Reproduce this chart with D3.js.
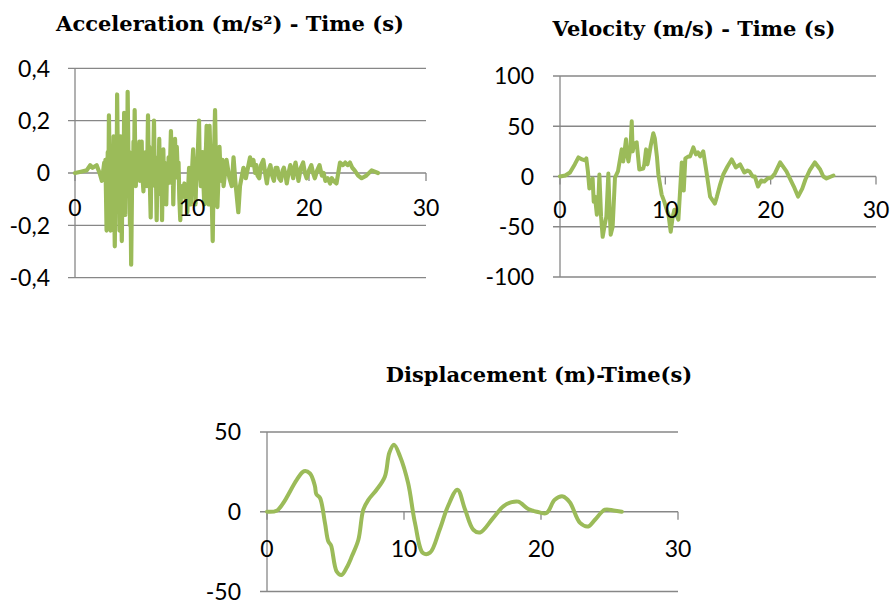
<!DOCTYPE html>
<html><head><meta charset="utf-8">
<script src="https://cdn.jsdelivr.net/npm/d3@7"></script>
<style>
html,body{margin:0;padding:0;background:#fff;}
svg{display:block;}
</style>
</head><body>
<svg id="chart" width="894" height="600"></svg>
<script>
// ---------- DATA ----------
const accTime = [0,0.5,1.0,1.3,1.5,1.85,2.1,2.3,
  2.5,2.55,2.6,2.65,2.7,2.75,2.8,2.85,2.9,2.95,3.0,3.05,3.1,3.15,3.2,3.25,3.3,3.35,3.4,3.45,3.5,3.55,3.6,3.65,3.7,3.75,3.8,3.85,3.9,3.95,4.0,4.05,4.1,4.15,4.2,4.25,4.3,4.35,4.4,4.45,4.5,4.55,4.6,4.65,4.7,4.75,4.8,4.85,4.9,4.95,5.0,5.05,5.1,5.15,5.2,5.25,5.3,5.35,5.4,5.5,5.55,5.6,5.7,5.75,5.85,5.9,6.0,6.05,6.15,6.24,6.3,6.35,6.42,6.47,6.52,6.6,6.65,6.75,6.8,6.85,6.9,6.98,7.03,7.1,7.15,7.2,7.25,7.3,7.38,7.44,7.5,7.55,7.6,7.65,7.72,7.8,7.87,7.95,8.0,8.1,8.2,8.25,8.3,8.35,8.4,8.45,8.55,8.6,8.7,8.8,8.85,8.92,9.0,9.05,9.15,9.25,9.35,9.45,9.55,9.6,9.68,9.75,9.82,9.9,9.97,10.05,10.1,10.15,10.22,10.3,10.35,10.4,10.5,10.6,10.65,10.75,10.82,10.9,10.97,11.05,11.12,11.2,11.25,11.32,11.4,11.45,11.5,11.55,11.62,11.7,11.77,11.85,11.97,12.02,12.1,12.17,12.25,12.35,12.42,12.5,12.6,
  12.7,12.95,13.2,13.4,13.55,13.7,13.96,14.1,14.4,14.6,
  14.96,15.1,15.25,15.4,15.5,15.6,15.75,15.9,16.1,16.25,16.4,16.55,16.7,16.85,17.0,17.15,17.3,17.45,17.6,17.75,17.85,18.0,18.1,18.25,18.4,18.55,18.65,18.75,18.85,19.0,19.1,19.3,19.5,19.65,19.8,20.0,20.2,20.35,20.5,20.7,20.9,21.1,21.25,21.4,21.6,21.8,21.95,22.1,22.35,22.5,22.65,22.9,23.1,23.3,23.5,23.7,23.9,24.2,24.5,24.9,25.35,25.9];
const accValues = [0,0.005,0.01,0.03,0.02,0.03,0.0,-0.03,
  0.04,-0.02,0.05,-0.08,-0.22,-0.05,0.08,-0.1,0.22,0.05,-0.12,-0.22,0.02,-0.08,0.1,-0.05,0.14,-0.1,-0.28,-0.05,0.1,-0.1,0.30,0.1,-0.08,0.05,-0.22,0.0,0.14,-0.1,-0.26,-0.05,0.08,-0.05,0.23,0.05,-0.16,0.0,0.1,-0.05,0.31,0.12,-0.05,0.08,-0.2,-0.1,-0.35,-0.15,0.05,-0.05,0.12,0.02,0.24,0.05,-0.05,0.08,-0.02,0.1,0.03,0.12,-0.03,0.08,0.12,0.0,-0.07,0.05,-0.03,0.08,-0.05,0.22,0.02,0.1,-0.08,-0.17,0.0,0.08,-0.03,0.2,0.03,-0.05,0.06,-0.18,-0.04,0.06,-0.02,0.13,0.0,-0.08,0.02,-0.18,0.0,0.09,-0.03,0.04,-0.08,-0.12,0.02,-0.04,0.06,0.0,0.16,0.05,-0.04,0.05,-0.12,-0.02,0.13,0.03,0.1,-0.02,0.04,-0.1,-0.18,-0.08,-0.05,-0.09,-0.04,-0.1,-0.06,-0.15,-0.05,0.02,-0.06,-0.12,-0.02,0.05,0.09,-0.02,0.03,-0.12,-0.04,0.0,0.08,0.2,0.05,-0.05,0.03,0.08,-0.03,-0.12,0.05,0.1,0.18,0.0,-0.12,0.05,0.18,0.1,-0.05,-0.12,-0.26,0.0,0.24,0.1,0.05,-0.13,-0.03,0.1,0.02,-0.03,0.05,
  -0.05,0.05,-0.02,-0.05,0.06,-0.03,-0.15,-0.05,0.02,-0.02,
  0.06,0.03,0.05,0.0,0.03,-0.01,-0.02,0.03,0.05,0.0,-0.04,0.01,0.03,-0.01,-0.03,0.02,0.02,-0.02,-0.03,0.01,0.02,-0.01,-0.04,0.0,0.03,0.0,-0.02,0.02,0.04,0.0,-0.03,0.02,0.04,0.0,-0.02,0.01,0.03,0.0,-0.02,0.01,0.03,-0.01,0.0,-0.03,-0.02,-0.04,-0.02,-0.03,-0.04,0.0,0.04,0.03,0.04,0.03,0.04,0.02,0.01,-0.01,-0.02,-0.01,0.01,0.0];

const velTime = [0,0.5,0.95,1.4,1.75,2.1,2.37,2.5,2.65,2.79,2.95,3.1,3.2,3.32,3.5,3.62,3.74,3.9,4.05,4.25,4.4,4.59,4.7,4.81,5.0,5.22,5.5,5.86,6.0,6.27,6.4,6.5,6.7,6.81,6.9,7.03,7.28,7.53,7.9,8.0,8.17,8.3,8.4,8.6,8.86,9.0,9.2,9.34,9.65,9.9,10.13,10.3,10.51,10.7,10.86,11.05,11.24,11.56,11.75,11.9,12.2,12.35,12.66,12.9,13.1,13.3,13.6,13.9,14.25,14.7,14.9,15.2,15.5,15.9,16.3,16.7,17.1,17.5,17.8,18.0,18.3,18.5,18.8,19.1,19.4,19.7,20.1,20.4,20.9,21.5,22.2,22.6,23.0,23.3,23.7,24.2,24.7,25.0,25.3,25.96];
const velValues = [0,1,4,12,19,17,16,18,5,-12,-10,-2,-25,-20,-38,-30,2,-40,-60,-48,-40,3,-30,-58,-50,-1,5,27,15,37,20,15,30,55,25,32,34,7,8,12,27,12,17,30,43,38,20,2,-18,-25,-33,-38,-55,-40,-33,-38,-43,14,-14,18,20,20,29,22,24,20,25,5,-20,-27,-20,-8,2,10,17,9,12,4,6,5,0,0,-10,-4,-5,-2,-1,3,14,5,-10,-20,-12,-3,6,14,7,0,-2,1];

const dispTime = [0,0.7,1.19,2.17,2.7,3.14,3.5,3.6,3.87,4.23,4.48,4.67,5.09,5.45,5.82,6.2,6.67,7.03,7.4,8.0,8.6,8.93,9.27,9.7,10.3,10.8,11.4,11.9,12.6,13.2,13.9,14.45,15.06,15.55,16.5,17.25,17.86,18.35,19.07,19.7,20.4,21.0,21.6,22.1,22.85,23.45,23.94,24.67,25.3,25.9];
const dispValues = [0,0.6,5.5,20,25.4,24,16,11,8.6,-7,-18.7,-21,-37.5,-39.6,-35,-27.8,-17.6,1.3,7.5,13.8,22,37,42,35,18,-7,-26,-25.7,-11.3,3.3,13.8,1.5,-11.3,-13,-4,3.4,6,6.3,1.7,0,-0.8,7.5,9.6,6,-7,-9.2,-5,1.3,0.8,0];

const xTicks = [0, 10, 20, 30];
const accTicks = [-0.4, -0.2, 0, 0.2, 0.4];
const velTicks = [-100, -50, 0, 50, 100];
const dispTicks = [-50, 0, 50];
const titles = ["Acceleration (m/s\u00B2) - Time (s)", "Velocity (m/s) - Time (s)", "Displacement (m)-Time(s)"];

// ---------- STYLE / LAYOUT ----------
const lineColor = "#9BBB59";
const gridColor = "#878787";
const tickFont = "Lato, 'Open Sans', sans-serif";
const titleFont = "'DejaVu Serif', serif";
const tickSize = 23;

const panels = [
  {t: accTime, v: accValues, ticks: accTicks, title: titles[0], x0: 75, x1: 426, yTop: 68.3, yBot: 277.7,
   fmt: d => String(d).replace('.', ','), labelRight: 50, xLabelDy: 43, titleX: 230, titleY: 31, curve: d3.curveLinear, sw: 4.2},
  {t: velTime, v: velValues, ticks: velTicks, title: titles[1], x0: 560, x1: 876, yTop: 76, yBot: 277,
   fmt: d => String(d), labelRight: 534, xLabelDy: 41, titleX: 694, titleY: 36, curve: d3.curveLinear, sw: 4},
  {t: dispTime, v: dispValues, ticks: dispTicks, title: titles[2], x0: 267, x1: 678, yTop: 432, yBot: 591.5,
   fmt: d => String(d), labelRight: 241, xLabelDy: 45, titleX: 539, titleY: 382, curve: d3.curveCatmullRom.alpha(0.5), sw: 4}
];

const svg = d3.select("#chart");

panels.forEach(p => {
  const ext = d3.extent(p.ticks);
  const x = d3.scaleLinear().domain([0, 30]).range([p.x0, p.x1]);
  const y = d3.scaleLinear().domain(ext).range([p.yBot, p.yTop]);
  const g = svg.append("g");

  g.selectAll("line.grid").data(p.ticks).enter().append("line")
    .attr("x1", p.x0 - 7).attr("x2", p.x1)
    .attr("y1", d => y(d)).attr("y2", d => y(d))
    .attr("stroke", gridColor).attr("stroke-width", 1.3);

  g.append("line")
    .attr("x1", p.x0).attr("x2", p.x0)
    .attr("y1", y(ext[1])).attr("y2", y(ext[0]))
    .attr("stroke", gridColor).attr("stroke-width", 1.3);

  g.selectAll("line.xt").data(xTicks).enter().append("line")
    .attr("x1", d => x(d)).attr("x2", d => x(d))
    .attr("y1", y(0)).attr("y2", y(0) + 8)
    .attr("stroke", gridColor).attr("stroke-width", 1.3);

  const line = d3.line().x((d, i) => x(p.t[i])).y(d => y(d)).curve(p.curve);
  g.append("path").datum(p.v)
    .attr("d", line)
    .attr("fill", "none").attr("stroke", lineColor)
    .attr("stroke-width", p.sw).attr("stroke-linejoin", "round").attr("stroke-linecap", "round");

  g.selectAll("text.yl").data(p.ticks).enter().append("text")
    .attr("x", p.labelRight).attr("y", d => y(d))
    .attr("dy", "0.36em").attr("text-anchor", "end")
    .attr("font-family", tickFont).attr("font-size", tickSize).attr("fill", "#000")
    .text(p.fmt);

  g.selectAll("text.xl").data(xTicks).enter().append("text")
    .attr("x", d => x(d)).attr("y", y(0) + p.xLabelDy)
    .attr("text-anchor", "middle")
    .attr("font-family", tickFont).attr("font-size", tickSize).attr("fill", "#000")
    .text(d => d);

  svg.append("text")
    .attr("x", p.titleX).attr("y", p.titleY)
    .attr("text-anchor", "middle")
    .attr("font-family", titleFont).attr("font-weight", "bold").attr("font-size", 21)
    .attr("fill", "#000")
    .text(p.title);
});
</script>
</body></html>
